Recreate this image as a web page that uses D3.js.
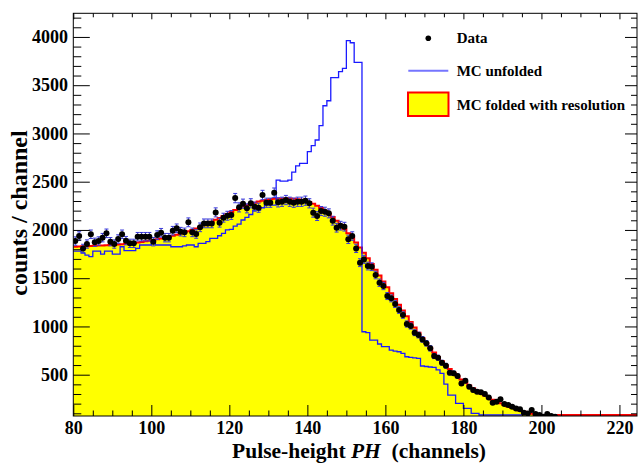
<!DOCTYPE html>
<html><head><meta charset="utf-8">
<script src="https://cdn.jsdelivr.net/npm/d3@7"></script>
<style>
body{margin:0;background:#fff}
svg{display:block}
text{font-family:"Liberation Serif","Times New Roman",serif;font-weight:bold;white-space:pre}
</style>
</head><body><svg id="c" width="639" height="463"></svg>
<script>
// ---- data (one bin per channel, first bin = channel 80) ----
const firstChannel = 80;
const dataCounts = [
1885,1937,1809,1854,1955,1872,1885,1920,1965,1878,
1854,1906,1955,1889,1861,1861,1930,1930,1930,1930,
1878,1947,1971,1920,1920,1992,2017,1982,1975,2079,
1975,1958,2027,2068,2068,2068,2182,2075,2127,2147,
2155,2330,2234,2272,2224,2276,2241,2230,2362,2282,
2282,2386,2286,2292,2310,2292,2282,2292,2292,2303,
2276,2179,2144,2196,2189,2172,2096,2023,2044,2034,
1903,1937,1809,1661,1695,1626,1619,1533,1453,1419,
1315,1291,1232,1170,1118,1025,1004,935,911,866,
825,773,693,676,624,593,520,514,486,410,
437,375,341,323,317,300,265,209,220,245,
196,186,168,151,141,106,99,134,92,82,
64,92,72,64];
const foldedCounts = [
1826,1828,1830,1832,1834,1836,1838,1840,1842,1843,
1845,1848,1852,1856,1860,1865,1870,1876,1882,1888,
1895,1903,1911,1920,1930,1940,1951,1962,1974,1987,
2000,2015,2031,2048,2066,2085,2105,2125,2145,2166,
2186,2206,2225,2243,2258,2271,2283,2294,2303,2311,
2317,2322,2325,2327,2328,2327,2324,2319,2312,2302,
2289,2272,2252,2228,2200,2168,2133,2095,2054,2011,
1966,1919,1870,1818,1764,1707,1648,1588,1527,1466,
1405,1344,1284,1224,1164,1105,1047,990,934,880,
828,778,730,684,640,598,558,520,484,450,
418,388,360,333,308,284,262,241,222,204,
187,171,156,142,129,117,106,96,86,77,
69,61,54,47,0,0,0,0,0,0,
0,0,0,0,0,0,0,0,0,0,
0,0,0,0,0];
const unfoldedCounts = [
1781,1781,1760,1740,1723,1781,1781,1750,1781,1781,
1750,1750,1826,1785,1785,1785,1809,1844,1844,1844,
1878,1844,1844,1844,1844,1826,1826,1826,1835,1844,
1844,1826,1861,1861,1878,1913,1913,1940,1965,2000,
2006,2040,2060,2103,2130,2160,2206,2206,2230,2258,
2258,2258,2517,2505,2505,2517,2600,2663,2690,2690,
2811,2873,2932,3080,3287,3339,3578,3578,3640,3675,
3961,3940,3737,3737,945,935,859,859,818,790,
790,755,745,738,721,686,680,675,670,590,
585,580,576,550,514,403,289,289,203,203,
151,151,99,99,82,0,0,0,0,0,
0,0,0,0,0,null,null,null,null,null,
null,null,80,80];
const xTicks = [80,100,120,140,160,180,200,220];
const yTicks = [500,1000,1500,2000,2500,3000,3500,4000];
const legendLabels = ["Data","MC unfolded","MC folded with resolution"];

// ---- layout ----
const L=73.3, R=637, T=13.3, B=416;
const yMin=72, yMax=4245;
const svg=d3.select("#c");
const x=d3.scaleLinear().domain([80,224.5]).range([L,R]);
const y=d3.scaleLinear().domain([yMin,yMax]).range([B,T]);
const yc=v=>y(Math.max(yMin,Math.min(yMax,v)));

svg.append("defs").append("clipPath").attr("id","clip")
  .append("rect").attr("x",L).attr("y",T).attr("width",R-L).attr("height",B-T);
const plot=svg.append("g").attr("clip-path","url(#clip)");

function stepPts(arr){
  const pts=[];
  arr.forEach((v,i)=>{const c=firstChannel+i;
    if(v===null){pts.push(null);return;}
    pts.push({c:c,v:v});pts.push({c:c+1,v:v});});
  return pts;
}
const foldPts=stepPts(foldedCounts);
plot.append("path").datum(foldPts)
  .attr("d",d3.area().x(d=>x(d.c)).y0(B).y1(d=>yc(d.v)))
  .attr("fill","#ffff00");
plot.append("path").datum(foldPts)
  .attr("d",d3.line().x(d=>x(d.c)).y(d=>Math.min(yc(d.v),B-1)))
  .attr("fill","none").attr("stroke","#ff0000").attr("stroke-width",2);
const unfPts=stepPts(unfoldedCounts);
plot.append("path").datum(unfPts)
  .attr("d",d3.line().defined(d=>d!==null).x(d=>x(d.c)).y(d=>Math.min(yc(d.v),B-1)))
  .attr("fill","none").attr("stroke","#1a1aff").attr("stroke-width",1.3);

// data points with errors
const pts=dataCounts.map((v,i)=>({c:firstChannel+i+0.5,v:v,e:Math.sqrt(v)}));
const eg=plot.append("g").attr("stroke","#3a3ad8").attr("stroke-width",1);
eg.selectAll("line.v").data(pts).join("line")
  .attr("x1",d=>x(d.c)).attr("x2",d=>x(d.c)).attr("y1",d=>y(d.v-d.e)).attr("y2",d=>y(d.v+d.e));
eg.selectAll("line.t").data(pts).join("line")
  .attr("x1",d=>x(d.c)-2).attr("x2",d=>x(d.c)+2).attr("y1",d=>y(d.v+d.e)).attr("y2",d=>y(d.v+d.e));
eg.selectAll("line.b").data(pts).join("line")
  .attr("x1",d=>x(d.c)-2).attr("x2",d=>x(d.c)+2).attr("y1",d=>y(d.v-d.e)).attr("y2",d=>y(d.v-d.e));
plot.append("g").selectAll("circle").data(pts).join("circle")
  .attr("cx",d=>x(d.c)).attr("cy",d=>y(d.v)).attr("r",3).attr("fill","#000");

// ---- axes ----
const xMinor=d3.range(85,225,5).filter(v=>v%20!==0);
const yMinor=d3.range(100,4250,100).filter(v=>v%500!==0);
function styleAx(g){g.select(".domain").remove();g.selectAll("line").attr("stroke","#000");}
svg.append("g").attr("transform",`translate(0,${B})`)
  .call(d3.axisBottom(x).tickValues(xTicks).tickSize(-11).tickPadding(5).tickFormat(d3.format("d")))
  .call(styleAx).selectAll("text").attr("font-size",18).attr("fill","#000");
svg.append("g").attr("transform",`translate(0,${B})`)
  .call(d3.axisBottom(x).tickValues(xMinor).tickSize(-5.5).tickFormat("")).call(styleAx);
svg.append("g").attr("transform",`translate(0,${T})`)
  .call(d3.axisTop(x).tickValues(xTicks).tickSize(-6).tickFormat("")).call(styleAx);
svg.append("g").attr("transform",`translate(0,${T})`)
  .call(d3.axisTop(x).tickValues(xMinor).tickSize(-4).tickFormat("")).call(styleAx);
svg.append("g").attr("transform",`translate(${L},0)`)
  .call(d3.axisLeft(y).tickValues(yTicks).tickSize(-16.5).tickPadding(5.3).tickFormat(d3.format("d")))
  .call(styleAx).selectAll("text").attr("font-size",18).attr("fill","#000");
svg.append("g").attr("transform",`translate(${L},0)`)
  .call(d3.axisLeft(y).tickValues(yMinor).tickSize(-8).tickFormat("")).call(styleAx);
svg.append("g").attr("transform",`translate(${R},0)`)
  .call(d3.axisRight(y).tickValues(yTicks).tickSize(-12).tickFormat("")).call(styleAx);
svg.append("g").attr("transform",`translate(${R},0)`)
  .call(d3.axisRight(y).tickValues(yMinor).tickSize(-6).tickFormat("")).call(styleAx);
svg.append("rect").attr("x",L).attr("y",T).attr("width",R-L).attr("height",B-T)
  .attr("fill","none").attr("stroke","#000").attr("stroke-width",1);

// titles
const xt=svg.append("text").attr("x",359).attr("y",457.5).attr("text-anchor","middle").attr("font-size",21.5);
xt.append("tspan").text("Pulse-height ");
xt.append("tspan").attr("font-style","italic").text("PH");
xt.append("tspan").text("  (channels)");
svg.append("text").attr("transform","translate(27,213) rotate(-90)").attr("text-anchor","middle")
  .attr("font-size",24).text("counts / channel");

// legend
const lg=svg.append("g");
lg.append("circle").attr("cx",428.3).attr("cy",38.3).attr("r",2.8).attr("fill","#000");
lg.append("line").attr("x1",408.3).attr("x2",448.3).attr("y1",70.7).attr("y2",70.7)
  .attr("stroke","#7575ff").attr("stroke-width",2);
lg.append("rect").attr("x",408).attr("y",92.5).attr("width",40.5).attr("height",23.5)
  .attr("fill","#ffff00").attr("stroke","#ff0000").attr("stroke-width",2);
[43,76,109.5].forEach((yy,i)=>lg.append("text").attr("x",456.7).attr("y",yy)
  .attr("font-size",15).text(legendLabels[i]));
</script></body></html>
